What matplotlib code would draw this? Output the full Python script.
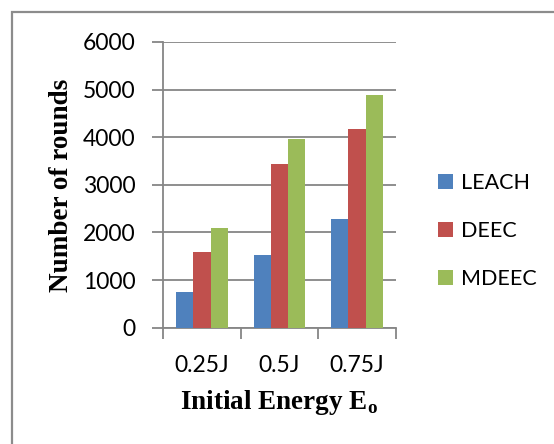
import numpy as np
import matplotlib
matplotlib.use("Agg")
import matplotlib.pyplot as plt
from matplotlib.patches import Rectangle

categories = ["0.25J", "0.5J", "0.75J"]
series_names = ["LEACH", "DEEC", "MDEEC"]
leach = [750, 1530, 2290]
deec = [1580, 3430, 4170]
mdeec = [2090, 3960, 4880]
series_values = [leach, deec, mdeec]
colors = ["#4F81BD", "#C0504D", "#9BBB59"]
yticks = [0, 1000, 2000, 3000, 4000, 5000, 6000]

plt.rcParams["mathtext.fontset"] = "custom"
plt.rcParams["mathtext.rm"] = "Liberation Serif:bold"
plt.rcParams["mathtext.bf"] = "Liberation Serif:bold"

W, H = 554, 444
fig = plt.figure(figsize=(W / 100, H / 100), dpi=100)
fig.patch.set_facecolor("white")

# outer chart frame
fig.add_artist(Rectangle((12 / W, -0.1), 1.2, 1 - 12 / H + 0.1,
                         transform=fig.transFigure, fill=False,
                         edgecolor="#8C8C8C", linewidth=1.6))

ax = fig.add_axes([163.3 / W, 1 - 327.7 / H, (395.7 - 163.3) / W, (327.7 - 42) / H])

n = len(series_names)
bw = 1 / 4.5
x = np.arange(len(categories))
for i, (name, vals, c) in enumerate(zip(series_names, series_values, colors)):
    ax.bar(x + (i - (n - 1) / 2) * bw, vals, width=bw, color=c, label=name,
           zorder=3, edgecolor="none")

ax.set_xlim(-0.5, len(categories) - 0.5)
ax.set_ylim(0, 6000)
ax.set_yticks(yticks)
ax.yaxis.grid(True, color="#868686", linewidth=1.3, zorder=0)
ax.set_axisbelow(True)

for s in ["top", "right"]:
    ax.spines[s].set_visible(False)
for s in ["left", "bottom"]:
    ax.spines[s].set_color("#868686")
    ax.spines[s].set_linewidth(1.3)

ax.set_xticks(x)
ax.set_xticklabels(categories, fontfamily="Lato", fontsize=16.5)
ax.set_xticks(np.arange(len(categories) + 1) - 0.5, minor=True)
ax.tick_params(axis="x", which="major", length=0, pad=20)
ax.tick_params(axis="x", which="minor", length=8, width=1.3, color="#868686")
ax.tick_params(axis="y", length=8, width=1.3, color="#868686", pad=12)
for lab in ax.get_yticklabels():
    lab.set_fontfamily("Lato")
    lab.set_fontsize(16.5)

fig.text(62 / W, 1 - 185 / H, "Number of rounds", rotation=90, ha="center",
         va="center", fontfamily="Liberation Serif", fontweight="bold", fontsize=19.5)
fig.text(279 / W, 1 - 402 / H, r"Initial Energy E$_{\mathbf{o}}$", ha="center",
         va="center", fontfamily="Liberation Serif", fontweight="bold", fontsize=19.5)

leg = ax.legend(loc="center left", bbox_to_anchor=(429.5 / W, 1 - 231 / H),
                bbox_transform=fig.transFigure, frameon=False,
                prop={"family": "Lato", "size": 15.5}, handlelength=0.7,
                handleheight=0.7, handletextpad=0.37, labelspacing=1.32,
                borderaxespad=0)

fig.savefig("out.png", dpi=100)
